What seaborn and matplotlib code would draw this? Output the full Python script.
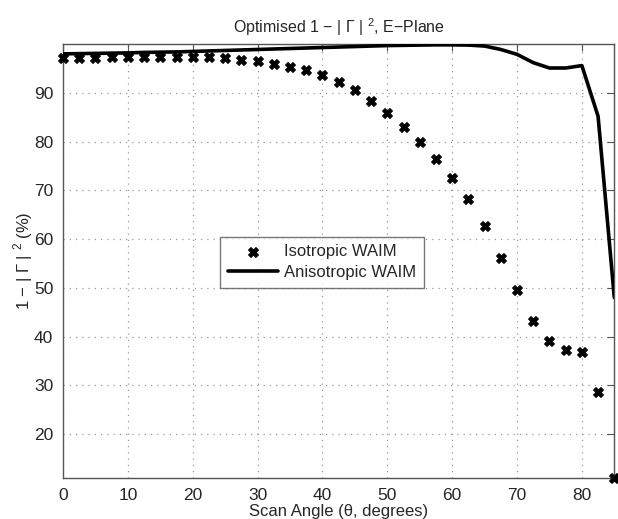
import numpy as np
import pandas as pd
import matplotlib
matplotlib.use("Agg")
import matplotlib.pyplot as plt
import seaborn as sns

# scan angle (degrees), every 2.5 deg
scan_angle = [0, 2.5, 5, 7.5, 10, 12.5, 15, 17.5, 20, 22.5, 25, 27.5, 30, 32.5,
              35, 37.5, 40, 42.5, 45, 47.5, 50, 52.5, 55, 57.5, 60, 62.5, 65,
              67.5, 70, 72.5, 75, 77.5, 80, 82.5, 85]

isotropic = [97.2, 97.2, 97.2, 97.3, 97.3, 97.3, 97.3, 97.4, 97.4, 97.3, 97.1,
             96.8, 96.5, 96.0, 95.4, 94.6, 93.6, 92.3, 90.6, 88.4, 85.9, 83.0,
             79.9, 76.4, 72.6, 68.2, 62.6, 56.2, 49.5, 43.2, 39.0, 37.3, 36.9,
             28.7, 11.0]

anisotropic = [98.0, 98.05, 98.1, 98.15, 98.2, 98.3, 98.35, 98.4, 98.5, 98.6,
               98.7, 98.8, 98.9, 99.0, 99.1, 99.2, 99.3, 99.4, 99.5, 99.6, 99.7,
               99.75, 99.8, 99.85, 99.85, 99.8, 99.6, 98.9, 97.9, 96.2, 95.1,
               95.1, 95.6, 85.2, 48.0]

df = pd.DataFrame({"angle": scan_angle, "iso": isotropic, "aniso": anisotropic})

sns.set_style("white")
plt.rcParams["font.family"] = ["Liberation Sans", "DejaVu Sans"]
plt.rcParams["mathtext.fontset"] = "custom"
plt.rcParams["mathtext.rm"] = "Liberation Sans"

fig = plt.figure(figsize=(6.18, 5.19), dpi=100)
ax = fig.add_axes([0.102, 0.079, 0.892, 0.836])

sns.scatterplot(data=df, x="angle", y="iso", marker="X", s=50, color="black",
                edgecolor="black", linewidth=0.8, label="Isotropic WAIM",
                ax=ax, zorder=3, clip_on=False)
sns.lineplot(data=df, x="angle", y="aniso", color="black", linewidth=2.6,
             label="Anisotropic WAIM", ax=ax, zorder=4)

ax.set_xlim(0, 85)
ax.set_ylim(11, 100)
ax.set_xticks(np.arange(0, 81, 10))
ax.set_yticks(np.arange(20, 91, 10))
ax.grid(True, linestyle=(0, (1, 4)), color="#999999", linewidth=0.9)
ax.tick_params(direction="in", length=5, top=True, right=True,
               labelsize=12.5, color="#555555", pad=7)
for sp in ax.spines.values():
    sp.set_color("#555555")
    sp.set_linewidth(1.0)

ax.set_title(r"Optimised 1 − | Γ | $^2$, E−Plane", fontsize=11.5, pad=8)
ax.set_xlabel("Scan Angle (θ, degrees)", fontsize=12, labelpad=1)
ax.set_ylabel(r"1 − | Γ | $^2$ (%)", fontsize=12, labelpad=-1)

leg = ax.legend(loc="upper left", bbox_to_anchor=(0.285, 0.556), fontsize=12,
                handlelength=3.0, handletextpad=0.4, frameon=True,
                fancybox=False, edgecolor="#555555", borderpad=0.45,
                borderaxespad=0, labelspacing=0.35)
leg.get_frame().set_linewidth(1.0)

fig.savefig("out.png", dpi=100)
